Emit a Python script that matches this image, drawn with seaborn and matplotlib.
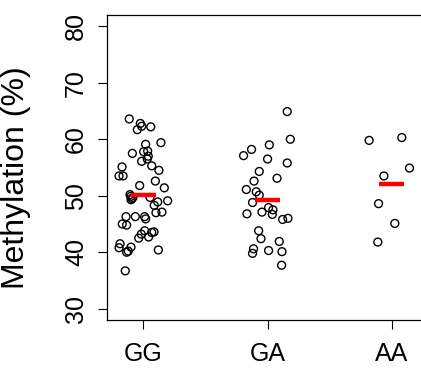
import numpy as np
import pandas as pd
import matplotlib
matplotlib.use("Agg")
import matplotlib.pyplot as plt
import seaborn as sns

# genotipos y valores
genotipos = ["GG", "GA", "AA"]

gg_metil = [63.6, 62.8, 62.3, 61.7, 62.2, 59.1, 59.4, 57.5, 57.8, 57.9, 57.0, 56.5, 56.1,
            55.3, 54.5, 55.1, 53.5, 53.5, 52.6, 51.8, 51.4, 50.2, 49.9, 49.5, 49.3, 49.7,
            49.7, 48.9, 49.1, 48.3, 47.1, 47.0, 46.3, 46.3, 46.3, 45.9, 45.0, 44.8, 43.8,
            43.2, 43.5, 43.6, 42.7, 42.5, 41.5, 40.8, 40.2, 40.9, 40.0, 40.4, 36.7]
gg_jitter = [-0.113, -0.024, -0.013, -0.048, 0.060, 0.019, 0.142, -0.088, 0.003, 0.035, 0.040,
             0.032, -0.013, 0.068, 0.126, -0.171, -0.195, -0.163, 0.097, -0.029, 0.169, -0.107,
             -0.099, -0.091, -0.099, -0.083, 0.054, 0.116, 0.196, 0.088, 0.150, 0.102, -0.139,
             -0.064, 0.011, 0.019, -0.169, -0.134, 0.011, -0.016, 0.068, 0.086, 0.043, -0.037,
             -0.187, -0.195, -0.121, -0.099, -0.134, 0.121, -0.145]

ga_metil = [64.9, 60.0, 59.0, 58.2, 57.1, 56.5, 55.8, 54.3, 53.1, 52.6, 51.1, 50.7, 50.1,
            48.8, 46.8, 47.1, 47.9, 47.5, 46.7, 45.8, 46.0, 43.8, 42.4, 41.9, 40.6, 39.8,
            40.3, 40.1, 37.7]
ga_jitter = [0.158, 0.183, 0.014, -0.129, -0.193, 0.0, 0.158, -0.067, 0.076, -0.109, -0.171,
             -0.091, -0.067, -0.121, -0.166, -0.045, 0.008, 0.043, 0.038, 0.121, 0.164, -0.072,
             -0.053, 0.094, -0.113, -0.121, 0.008, 0.116, 0.113]

aa_metil = [59.8, 60.3, 54.9, 53.5, 48.6, 45.1, 41.8]
aa_jitter = [-0.183, 0.080, 0.142, -0.064, -0.107, 0.024, -0.113]

# armar tabla larga
df = pd.concat([
    pd.DataFrame({"Genotipo": g, "Metil": m, "Jitter": j})
    for g, m, j in zip(genotipos, [gg_metil, ga_metil, aa_metil],
                       [gg_jitter, ga_jitter, aa_jitter])
], ignore_index=True)
df["pos"] = df["Genotipo"].map({g: i for i, g in enumerate(genotipos)}) + df["Jitter"]

sns.set_theme(style="white")
plt.rcParams["font.family"] = ["Liberation Sans", "DejaVu Sans"]
plt.rcParams["text.color"] = "black"
plt.rcParams["axes.labelcolor"] = "black"
plt.rcParams["xtick.color"] = "black"
plt.rcParams["ytick.color"] = "black"

fig = plt.figure(figsize=(4.21, 3.68), dpi=100)
ax = fig.add_axes([107 / 421, 48 / 368, 347 / 421, 305 / 368])

sns.scatterplot(data=df, x="pos", y="Metil", ax=ax, marker="o", s=32,
                facecolor="none", edgecolor="black", linewidth=1.0)

# linea roja de la media
medias = df.groupby("Genotipo")["Metil"].mean()
for i, g in enumerate(genotipos):
    ax.hlines(medias[g], i - 0.1, i + 0.1, color="red", linewidth=3.2, zorder=5)

ax.set_xlim(-0.292, 2.5)
ax.set_ylim(28, 82)
ax.set_xticks(range(len(genotipos)))
ax.set_xticklabels(genotipos)
ax.set_yticks([30, 40, 50, 60, 70, 80])
ax.set_xlabel("")
ax.set_ylabel("Methylation (%)", fontsize=23)
ax.yaxis.set_label_coords(31 / 421, 1 - 178 / 368, transform=fig.transFigure)

ax.tick_params(axis="both", direction="out", length=6.5, width=0.8, color="black",
               labelcolor="black", labelsize=18, pad=7, left=True, bottom=True)
ax.tick_params(axis="x", pad=9)
ax.tick_params(axis="y", labelrotation=90)
for lab in ax.get_yticklabels():
    lab.set_va("center")
for sp in ax.spines.values():
    sp.set_color("black")
    sp.set_linewidth(0.9)

fig.savefig("out.png", dpi=100)
